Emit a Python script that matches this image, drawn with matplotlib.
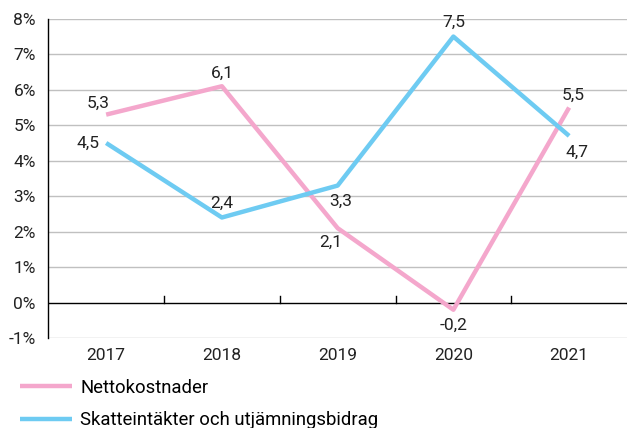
import matplotlib.pyplot as plt

plt.rcParams['font.family'] = ['Roboto', 'DejaVu Sans']

years = ["2017", "2018", "2019", "2020", "2021"]
netto = [5.3, 6.1, 2.1, -0.2, 5.5]
skatt = [4.5, 2.4, 3.3, 7.5, 4.7]

# etikettplacering (dx, dy i punkter)
netto_off = [(-6, 8), (0, 9), (-5, -10), (0, -11), (3, 9)]
skatt_off = [(-13, 0), (0, 10), (2, -11), (0, 10), (6, -12)]

pink = "#F4A7CC"
blue = "#6ECBF2"

fig = plt.figure(figsize=(6.27, 4.28), dpi=100)
ax = fig.add_axes([0.077, 0.21, 0.923, 0.746])

x = list(range(len(years)))
ax.plot(x, netto, color=pink, lw=3.2, solid_capstyle="butt", label="Nettokostnader", zorder=3)
ax.plot(x, skatt, color=blue, lw=3.2, solid_capstyle="butt",
        label="Skatteintäkter och utjämningsbidrag", zorder=3)

for xi, v, (dx, dy) in zip(x, netto, netto_off):
    ax.annotate(f"{v:.1f}".replace(".", ","), (xi, v), xytext=(dx, dy), textcoords="offset points",
                ha="center", va="center", fontsize=12.5, color="#222222")
for xi, v, (dx, dy) in zip(x, skatt, skatt_off):
    ax.annotate(f"{v:.1f}".replace(".", ","), (xi, v), xytext=(dx, dy), textcoords="offset points",
                ha="center", va="center", fontsize=12.5, color="#222222")

ax.set_xlim(-0.5, 4.5)
ax.set_ylim(-1, 8)
ax.set_yticks(range(-1, 9))
ax.set_yticklabels([f"{t}%" for t in range(-1, 9)], fontsize=12.5, color="#222222")
ax.set_xticks(x)
ax.set_xticklabels(years, fontsize=12.5, color="#222222")
ax.tick_params(axis="x", length=0, pad=7)
ax.tick_params(axis="y", length=0, pad=9)

for t in range(-1, 9):
    if t != 0:
        ax.axhline(t, color="#C0C0C0", lw=1.0, zorder=1)
ax.axhline(0, color="black", lw=1.0, zorder=2)
for b in [0.5, 1.5, 2.5, 3.5]:
    ax.plot([b, b], [0, 0.2], color="black", lw=1.0, zorder=2)

for s in ["top", "right", "bottom"]:
    ax.spines[s].set_visible(False)
ax.spines["left"].set_color("black")
ax.spines["left"].set_linewidth(1.0)

leg = fig.legend(loc="upper left", bbox_to_anchor=(0.032, 0.115), frameon=False,
                 fontsize=13.3, handlelength=2.8, handletextpad=0.45, labelspacing=0.78,
                 borderaxespad=0, borderpad=0)

fig.savefig("out.png", dpi=100)
